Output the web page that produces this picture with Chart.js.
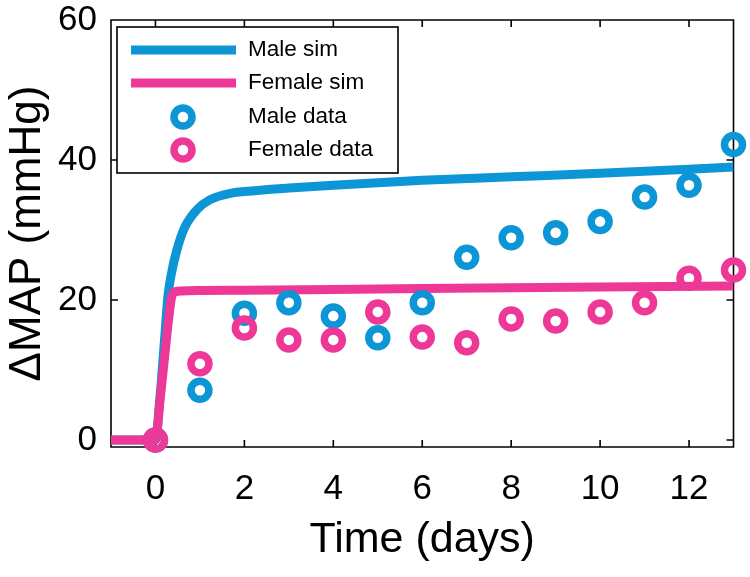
<!DOCTYPE html>
<html>
<head>
<meta charset="utf-8">
<script src="https://cdn.jsdelivr.net/npm/chart.js@4.4.1/dist/chart.umd.min.js"></script>
<style>
html,body{margin:0;padding:0;background:#fff}
canvas{display:block}
</style>
</head>
<body>
<canvas id="c" width="750" height="577"></canvas>
<script>
// ---- data ----
const days = [0, 1, 2, 3, 4, 5, 6, 7, 8, 9, 10, 11, 12, 13];
const maleData = [0, 7.1, 18.1, 19.6, 17.7, 14.6, 19.6, 26.1, 28.9, 29.6, 31.2, 34.7, 36.4, 42.2];
const femaleData = [0, 10.9, 16.0, 14.3, 14.3, 18.3, 14.7, 13.9, 17.3, 17.0, 18.3, 19.6, 23.1, 24.3];

const maleSimT = [-1, 0, 0.1, 0.2, 0.28, 0.35, 0.48, 0.66, 0.93, 1.22, 1.74, 2, 3, 4, 6, 8, 10, 13];
const maleSimY = [0, 0, 6, 14, 20.5, 23.5, 27.1, 30.4, 32.9, 34.3, 35.3, 35.5, 36.0, 36.4, 37.1, 37.6, 38.1, 39.0];

const femaleSimT = [-1, 0, 0.1, 0.2, 0.3, 0.37, 0.45, 0.6, 1, 2, 4, 6, 8, 10, 13];
const femaleSimY = [0, 0, 5.5, 11.5, 17.5, 20.6, 21.2, 21.3, 21.35, 21.4, 21.5, 21.65, 21.75, 21.85, 22.0];

const xTicks = [0, 2, 4, 6, 8, 10, 12];
const yTicks = [0, 20, 40, 60];
const seriesLabels = ['Male sim', 'Female sim', 'Male data', 'Female data'];
const xTitle = 'Time (days)';
const yTitle = '\u0394MAP (mmHg)';

const BLUE = '#0C96D5';
const PINK = '#EE3897';
const FONT = '"Liberation Sans", Arial, Helvetica, sans-serif';

const pts = (xs, ys) => xs.map((v, i) => ({x: v, y: ys[i]}));

const frame = {
  id: 'frame',
  beforeDatasetsDraw(chart) {
    const {ctx, chartArea: a, scales: {x, y}} = chart;
    ctx.save();
    ctx.strokeStyle = '#000';
    ctx.lineWidth = 1.6;
    ctx.beginPath();
    ctx.rect(a.left, a.top, a.right - a.left, a.bottom - a.top);
    const tl = 7;
    x.ticks.forEach(t => {
      const px = x.getPixelForValue(t.value);
      ctx.moveTo(px, a.bottom); ctx.lineTo(px, a.bottom - tl);
      ctx.moveTo(px, a.top); ctx.lineTo(px, a.top + tl);
    });
    y.ticks.forEach(t => {
      const py = y.getPixelForValue(t.value);
      ctx.moveTo(a.left, py); ctx.lineTo(a.left + tl, py);
      ctx.moveTo(a.right, py); ctx.lineTo(a.right - tl, py);
    });
    ctx.stroke();
    ctx.restore();
  }
};

const legendBox = {
  id: 'legendBox',
  afterDatasetsDraw(chart) {
    const {ctx} = chart;
    const bx = 117, by = 27, bw = 281, bh = 146;
    const rows = [50, 83, 117, 150];
    ctx.save();
    ctx.fillStyle = '#fff';
    ctx.fillRect(bx, by, bw, bh);
    ctx.strokeStyle = '#000';
    ctx.lineWidth = 1.6;
    ctx.strokeRect(bx, by, bw, bh);
    const ds = chart.data.datasets;
    ds.forEach((d, i) => {
      const ry = rows[i];
      if (d.showLine) {
        ctx.strokeStyle = d.borderColor;
        ctx.lineWidth = d.borderWidth;
        ctx.lineCap = 'butt';
        ctx.beginPath();
        ctx.moveTo(131, ry); ctx.lineTo(236, ry);
        ctx.stroke();
      } else {
        ctx.strokeStyle = d.pointBorderColor;
        ctx.lineWidth = d.pointBorderWidth;
        ctx.beginPath();
        ctx.arc(183, ry, d.pointRadius, 0, Math.PI * 2);
        ctx.stroke();
      }
      ctx.fillStyle = '#000';
      ctx.font = '22.5px ' + FONT;
      ctx.textBaseline = 'middle';
      ctx.textAlign = 'left';
      ctx.fillText(d.label, 248, ry);
    });
    ctx.restore();
  }
};

new Chart(document.getElementById('c'), {
  type: 'scatter',
  data: {
    datasets: [
      {label: seriesLabels[0], data: pts(maleSimT, maleSimY), showLine: true, borderColor: BLUE, borderWidth: 9,
       pointRadius: 0, cubicInterpolationMode: 'monotone', borderJoinStyle: 'round', borderCapStyle: 'butt', order: 3},
      {label: seriesLabels[1], data: pts(femaleSimT, femaleSimY), showLine: true, borderColor: PINK, borderWidth: 9,
       pointRadius: 0, cubicInterpolationMode: 'monotone', borderJoinStyle: 'round', borderCapStyle: 'butt', order: 2},
      {label: seriesLabels[2], data: pts(days, maleData), showLine: false, pointRadius: 9, pointBorderWidth: 7.5,
       pointBorderColor: BLUE, pointBackgroundColor: 'rgba(0,0,0,0)', borderColor: BLUE, clip: false, order: 1},
      {label: seriesLabels[3], data: pts(days, femaleData), showLine: false, pointRadius: 9, pointBorderWidth: 7.5,
       pointBorderColor: PINK, pointBackgroundColor: 'rgba(0,0,0,0)', borderColor: PINK, clip: false, order: 0}
    ]
  },
  options: {
    responsive: false,
    animation: false,
    devicePixelRatio: 1,
    layout: {padding: {left: 0, right: 14, top: 20, bottom: 0}},
    plugins: {legend: {display: false}, tooltip: {enabled: false}},
    scales: {
      x: {
        type: 'linear', min: -1, max: 13,
        grid: {display: false, drawTicks: false},
        border: {display: false},
        afterBuildTicks: s => { s.ticks = xTicks.map(v => ({value: v})); },
        afterFit: s => { s.height = 130; s.paddingLeft = 0; s.paddingRight = 0; },
        ticks: {color: '#000', padding: 21, font: {family: FONT, size: 35}, maxRotation: 0},
        title: {display: true, text: xTitle, color: '#000', font: {family: FONT, size: 43}, padding: {top: 0, bottom: 11}}
      },
      y: {
        type: 'linear', min: -1, max: 60,
        grid: {display: false, drawTicks: false},
        border: {display: false},
        afterBuildTicks: s => { s.ticks = yTicks.map(v => ({value: v})); },
        afterFit: s => { s.width = 111; s.paddingTop = 0; s.paddingBottom = 0; },
        ticks: {color: '#000', padding: 14, font: {family: FONT, size: 35, lineHeight: 1}},
        title: {display: true, text: yTitle, color: '#000', font: {family: FONT, size: 44}, padding: {top: 1, bottom: 0}}
      }
    }
  },
  plugins: [frame, legendBox]
});
</script>
</body>
</html>
